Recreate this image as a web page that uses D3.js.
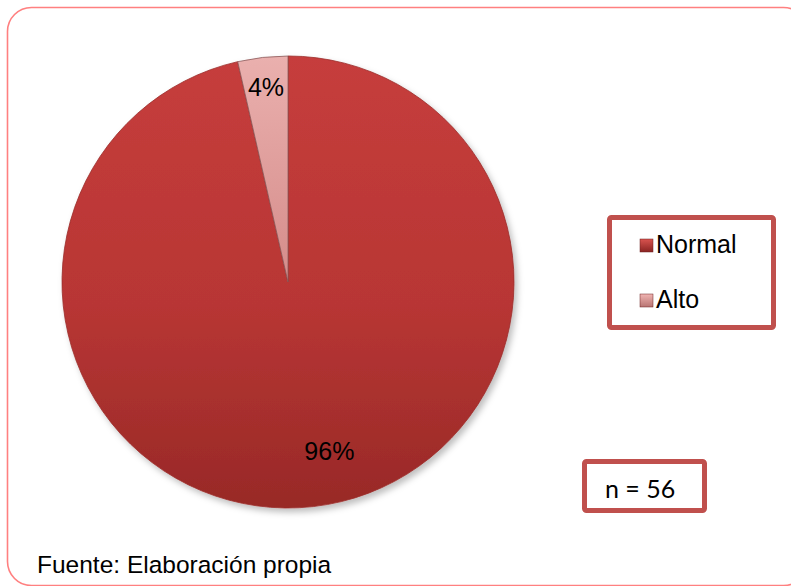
<!DOCTYPE html>
<html>
<head>
<meta charset="utf-8">
<script src="https://cdn.jsdelivr.net/npm/d3@7"></script>
<style>
  html, body { margin: 0; padding: 0; background: #fff; }
  svg { display: block; }
</style>
</head>
<body>
<svg id="chart" width="791" height="586"></svg>
<script>
// Distribution of cases by category (counts), total sample size
const categories = ["Normal", "Alto"];
const counts = [54, 2];
const sampleSize = 56;
const sourceNote = "Fuente: Elaboración propia";

const svg = d3.select("#chart");
const defs = svg.append("defs");

// Slice shading: lighter at the top, darker towards the bottom
const gradNormal = defs.append("linearGradient").attr("id", "gNormal")
  .attr("x1", 0).attr("y1", 0).attr("x2", 0).attr("y2", 1);
gradNormal.append("stop").attr("offset", "0%").attr("stop-color", "#c63d3c");
gradNormal.append("stop").attr("offset", "55%").attr("stop-color", "#b83634");
gradNormal.append("stop").attr("offset", "100%").attr("stop-color", "#982927");

const gradAlto = defs.append("linearGradient").attr("id", "gAlto")
  .attr("x1", 0).attr("y1", 0).attr("x2", 0).attr("y2", 1);
gradAlto.append("stop").attr("offset", "0%").attr("stop-color", "#eab0ae");
gradAlto.append("stop").attr("offset", "100%").attr("stop-color", "#d58c8a");

const shadow = defs.append("filter").attr("id", "shadow")
  .attr("x", "-10%").attr("y", "-10%").attr("width", "125%").attr("height", "125%");
shadow.append("feDropShadow").attr("dx", 3).attr("dy", 4).attr("stdDeviation", 3)
  .attr("flood-color", "#000").attr("flood-opacity", 0.25);

// Legend swatch gradients
const swNormal = defs.append("linearGradient").attr("id", "swNormal")
  .attr("x1", 0).attr("y1", 0).attr("x2", 0).attr("y2", 1);
swNormal.append("stop").attr("offset", "0%").attr("stop-color", "#d9534f");
swNormal.append("stop").attr("offset", "100%").attr("stop-color", "#8a2422");
const swAlto = defs.append("linearGradient").attr("id", "swAlto")
  .attr("x1", 0).attr("y1", 0).attr("x2", 0).attr("y2", 1);
swAlto.append("stop").attr("offset", "0%").attr("stop-color", "#f0b4b2");
swAlto.append("stop").attr("offset", "100%").attr("stop-color", "#b87472");

const fills = { "Normal": "url(#gNormal)", "Alto": "url(#gAlto)" };
const swatches = { "Normal": "url(#swNormal)", "Alto": "url(#swAlto)" };

// Outer frame
svg.append("rect")
  .attr("x", 7.5).attr("y", 7.5).attr("width", 800).attr("height", 578)
  .attr("rx", 24).attr("ry", 24)
  .attr("fill", "none").attr("stroke", "#ff8080").attr("stroke-width", 1.6);

// Pie
const cx = 288, cy = 282, r = 226;
const total = d3.sum(counts);
const data = categories.map((c, i) => ({ cat: c, value: counts[i] }));

const pie = d3.pie().value(d => d.value).sort(null)
  .startAngle(0).endAngle(2 * Math.PI);
const arcs = pie(data);
const arc = d3.arc().innerRadius(0).outerRadius(r);

const g = svg.append("g").attr("transform", `translate(${cx},${cy})`);
g.append("g").attr("filter", "url(#shadow)")
  .selectAll("path").data(arcs).join("path")
  .attr("d", arc)
  .attr("fill", d => fills[d.data.cat])
  .attr("stroke", d => d.data.cat === "Alto" ? "#8a5a5a" : "#9b2d2b")
  .attr("stroke-width", 0.8);

// Percentage labels
const fmt = v => Math.round(v / total * 100) + "%";
const labelArc = d3.arc().innerRadius(r * 0.87).outerRadius(r * 0.87);
g.selectAll("text.pct").data(arcs).join("text")
  .attr("class", "pct")
  .attr("transform", d => {
    if (d.data.cat === "Alto") {
      return `translate(${labelArc.centroid(d)})`;
    }
    const p = d3.arc().innerRadius(r * 0.77).outerRadius(r * 0.77)
      .centroid({ startAngle: Math.PI - 0.24, endAngle: Math.PI - 0.24 });
    return `translate(${p})`;
  })
  .attr("text-anchor", "middle")
  .attr("dy", "0.36em")
  .attr("font-family", "Liberation Sans, Arial, sans-serif")
  .attr("font-size", 25)
  .attr("fill", "#000")
  .text(d => fmt(d.value));

// Legend
const legend = svg.append("g");
legend.append("rect")
  .attr("x", 609.5).attr("y", 217.5).attr("width", 164).attr("height", 110)
  .attr("rx", 2)
  .attr("fill", "#fff").attr("stroke", "#c0504d").attr("stroke-width", 5);
const items = legend.selectAll("g.item").data(categories).join("g")
  .attr("class", "item")
  .attr("transform", (d, i) => `translate(640,${253 + i * 55})`);
items.append("rect")
  .attr("x", 0).attr("y", -14).attr("width", 13).attr("height", 13)
  .attr("fill", d => swatches[d]).attr("stroke", "#6b2020").attr("stroke-width", 0.5);
items.append("text")
  .attr("x", 16).attr("y", 0)
  .attr("font-family", "Liberation Sans, Arial, sans-serif")
  .attr("font-size", 25)
  .attr("fill", "#000")
  .text(d => d);

// Sample size box
svg.append("rect")
  .attr("x", 584.5).attr("y", 461.5).attr("width", 120).attr("height", 49)
  .attr("rx", 2)
  .attr("fill", "#fff").attr("stroke", "#c0504d").attr("stroke-width", 5);
svg.append("text")
  .attr("x", 605).attr("y", 498)
  .attr("font-family", "Lato, 'Open Sans', sans-serif")
  .attr("font-size", 25)
  .attr("fill", "#000")
  .text(`n = ${sampleSize}`);

// Source note
svg.append("text")
  .attr("x", 37).attr("y", 573)
  .attr("font-family", "Liberation Sans, Arial, sans-serif")
  .attr("font-size", 24.5)
  .attr("fill", "#000")
  .text(sourceNote);
</script>
</body>
</html>
